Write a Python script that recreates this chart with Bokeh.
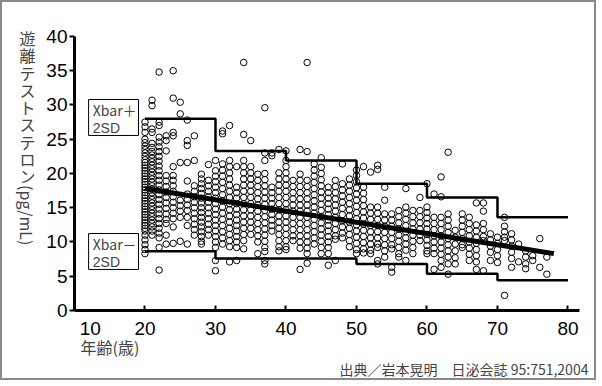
import math
from bokeh.plotting import figure
from bokeh.models import Range1d, FixedTicker, Label, BoxAnnotation
from bokeh.embed import file_html
from bokeh.resources import INLINE

# ---- data ----
x_ticks = [10, 20, 30, 40, 50, 60, 70, 80]
y_ticks = [0, 5, 10, 15, 20, 25, 30, 35, 40]

step_ages = [20, 30, 40, 50, 60, 70, 80]
upper_2sd = [28.0, 23.3, 21.9, 18.5, 16.5, 13.6, 13.6]
lower_2sd = [8.66, 7.6, 7.6, 6.8, 5.35, 4.4, 4.4]

reg_age = [20, 78]
reg_ft = [17.8, 8.3]

v20 = [27.5, 26.8, 26.0, 25.0, 24.5, 24.0, 23.5, 23.0, 22.5, 22.0, 21.6, 21.2, 20.8, 20.4, 20.0, 19.6, 19.2, 18.8, 18.4, 18.0, 17.6, 17.2, 16.8, 16.4, 16.0, 15.6, 15.2, 14.8, 14.4, 14.0, 13.6, 13.2, 12.8, 12.4, 12.0, 11.6, 11.0, 10.3, 9.6, 8.9, 8.3]
v21 = [30.7, 29.9, 26.5, 26.0, 24.4, 23.8, 23.2, 22.7, 22.2, 21.7, 21.2, 20.7, 20.2, 19.7, 19.2, 18.7, 18.2, 17.7, 17.2, 16.7, 16.2, 15.7, 15.2, 14.7, 14.2, 13.7, 13.2, 12.7, 12.2, 11.6, 11.0]
v22 = [34.8, 27.5, 27.0, 25.3, 24.6, 23.9, 23.2, 22.5, 21.8, 21.1, 20.4, 19.7, 19.0, 18.3, 17.6, 16.9, 16.2, 15.5, 14.8, 14.1, 13.4, 12.7, 12.0, 11.3, 10.6, 9.2, 5.9]
v23 = [25.5, 24.8, 23.3, 19.7, 18.9, 18.1, 17.3, 16.5, 15.7, 14.9, 14.1, 13.3, 12.7, 11.0, 9.7]
v24 = [35.0, 31.0, 26.0, 25.5, 21.0, 19.7, 19.0, 18.2, 17.4, 16.6, 15.8, 15.0, 14.2, 13.4, 12.2, 9.8]
v25 = [30.4, 28.7, 21.6, 16.1, 15.3, 14.5, 13.6, 10.1]
v26 = [27.8, 24.8, 24.1, 21.6, 18.9, 17.0, 16.2, 15.4, 14.6, 13.6, 12.4, 9.7]
v27 = [25.5, 21.9, 18.2, 17.4, 16.6, 15.8, 15.0, 14.2, 13.4, 12.6, 11.8, 11.0]
v28 = [19.9, 19.2, 18.5, 17.8, 17.1, 16.4, 15.7, 15.0, 14.3, 13.6, 12.9, 12.2, 11.5, 10.8, 10.1, 9.7]
v29 = [21.3, 19.0, 18.2, 17.4, 16.6, 15.8, 15.0, 14.2, 13.4, 12.6, 11.8, 11.0]
v30 = [21.9, 20.4, 19.6, 18.8, 18.0, 17.2, 16.4, 15.6, 14.8, 14.0, 13.2, 12.4, 11.6, 10.8, 10.0, 9.2, 7.3, 5.8]
v31 = [26.2, 25.8, 21.4, 20.5, 19.6, 18.7, 17.8, 16.9, 16.0, 15.1, 14.2, 13.3, 12.4, 11.5, 10.6, 9.7]
v32 = [27.0, 21.9, 21.0, 20.1, 19.2, 18.3, 17.4, 16.5, 15.6, 14.7, 13.8, 12.9, 12.0, 11.1, 10.2, 9.3, 7.1]
v33 = [21.0, 18.0, 17.2, 16.4, 15.6, 14.8, 14.0, 13.2, 12.4, 11.6, 10.8, 10.0, 9.2, 7.3]
v34 = [36.2, 25.7, 21.9, 21.0, 20.1, 19.2, 18.3, 17.4, 16.5, 15.6, 14.7, 13.8, 12.9, 12.0, 11.1, 10.2, 9.0]
v35 = [24.8, 21.0, 20.1, 19.2, 18.3, 17.4, 16.5, 15.6, 14.7, 13.8, 12.9, 12.0, 11.1]
v36 = [19.9, 19.0, 18.1, 17.2, 16.3, 15.4, 14.5, 13.6, 12.7, 11.8, 10.9, 10.0, 8.3]
v37 = [29.6, 23.0, 21.9, 20.0, 19.1, 18.2, 17.3, 16.4, 15.5, 14.6, 13.7, 12.8, 11.9, 11.0, 10.1, 9.2, 8.6, 7.3, 6.8]
v38 = [23.0, 22.6, 18.0, 17.2, 16.4, 15.6, 14.8, 14.0, 13.2, 12.4, 11.6]
v39 = [23.5, 20.1, 19.2, 18.3, 17.4, 16.5, 15.6, 14.7, 13.8, 12.9, 12.0, 11.1, 10.2, 9.3, 8.7]
v40 = [23.3, 21.9, 21.0, 20.1, 19.2, 18.3, 17.4, 16.5, 15.6, 14.7, 13.8, 12.9, 12.0, 11.1, 10.2, 9.3, 8.9]
v41 = [19.0, 18.1, 17.2, 16.3, 15.4, 14.5, 13.6, 12.7, 11.8, 10.9, 10.2]
v42 = [23.5, 19.9, 19.0, 18.1, 17.2, 16.3, 15.4, 14.5, 13.6, 12.7, 11.8, 10.9, 10.0, 9.1, 6.0]
v43 = [36.2, 23.2, 19.0, 18.1, 17.2, 16.3, 15.4, 14.5, 13.6, 12.7, 11.8, 10.9, 10.0, 9.1, 8.3, 6.9]
v44 = [21.4, 20.5, 19.6, 18.7, 17.8, 16.9, 16.0, 15.1, 14.2, 13.3, 12.4, 11.5, 10.6, 9.7]
v45 = [22.3, 20.9, 20.0, 19.1, 18.2, 17.3, 16.4, 15.5, 14.6, 13.7, 12.8, 11.9, 11.0, 10.1, 9.2, 8.3]
v46 = [18.0, 17.2, 16.4, 15.6, 14.8, 14.0, 13.2, 12.4, 11.6, 10.8, 10.0, 9.2, 8.3, 6.6]
v47 = [19.0, 18.1, 17.2, 16.3, 15.4, 14.5, 13.6, 12.7, 11.8, 10.9, 10.4, 7.3]
v48 = [21.4, 18.5, 17.6, 16.7, 15.8, 14.9, 14.0, 13.1, 12.2, 11.3, 10.6]
v49 = [19.2, 18.3, 17.4, 16.5, 15.6, 14.7, 13.8, 12.9, 12.0, 11.1, 10.2, 9.3]
v50 = [20.5, 19.7, 18.8, 17.9, 17.0, 16.1, 15.2, 14.3, 13.4, 12.5, 11.6, 10.7, 9.8, 8.9, 8.3]
v51 = [21.0, 18.0, 17.1, 16.2, 15.3, 14.4, 13.5, 12.6, 11.7, 10.8, 9.9, 9.0, 8.4]
v52 = [20.2, 15.1, 14.2, 13.3, 12.4, 11.5, 10.6, 9.7, 8.8, 8.3]
v53 = [21.2, 20.6, 15.1, 14.2, 13.3, 12.4, 11.5, 10.6, 9.7, 9.2, 7.3, 6.8]
v54 = [18.0, 16.1, 14.1, 13.2, 12.3, 11.4, 10.5, 9.6, 8.7, 7.8]
v55 = [14.1, 13.2, 12.3, 11.4, 10.5, 9.6, 9.0, 6.3, 5.6]
v56 = [14.6, 13.7, 12.8, 11.9, 11.0, 10.1, 9.2, 8.3, 7.8]
v57 = [17.8, 15.1, 14.2, 13.3, 12.4, 11.5, 10.6, 9.7, 8.8, 7.3]
v58 = [14.6, 13.7, 12.8, 11.9, 11.0, 10.1, 9.2, 8.3]
v59 = [16.5, 14.6, 13.7, 12.8, 11.9, 11.0, 10.2]
v60 = [18.5, 15.1, 14.3, 13.5, 12.7, 11.9, 11.1, 10.3, 9.5, 8.7, 8.3]
v61 = [17.0, 13.6, 12.7, 11.8, 10.9, 10.0, 9.1, 8.3, 6.0]
v62 = [19.5, 16.6, 13.6, 12.7, 11.8, 10.9, 10.0, 9.1, 8.2, 7.3, 6.3]
v63 = [23.1, 14.1, 13.2, 12.3, 11.4, 10.5, 9.6, 8.7, 7.8, 6.8, 5.3]
v64 = [11.7, 10.7, 9.7, 8.7, 7.7, 6.8]
v65 = [14.1, 13.2, 12.3, 11.4, 10.5, 9.6, 9.2]
v66 = [13.6, 12.7, 11.8, 10.9, 10.0, 9.1, 8.2, 7.3]
v67 = [15.7, 12.5, 11.6, 10.7, 9.8, 8.9, 8.0, 7.1, 6.0]
v68 = [15.7, 14.5, 12.7, 11.8, 10.8, 10.2, 5.8]
v69 = [11.2, 10.3, 9.4, 8.5, 7.3]
v70 = [10.7, 9.8, 8.9, 8.0, 7.0]
v71 = [13.6, 12.3, 11.5, 10.7, 10.2, 2.2]
v72 = [11.2, 10.3, 9.4, 8.5, 7.6, 6.3]
v73 = [9.7, 7.1]
v74 = [8.7, 7.8, 6.8, 6.1]
v75 = [8.0, 7.3]
v76 = [10.5, 6.3]
v77 = [7.8, 5.3]

columns = [(20, v20), (21, v21), (22, v22), (23, v23), (24, v24), (25, v25), (26, v26),
           (27, v27), (28, v28), (29, v29), (30, v30), (31, v31), (32, v32), (33, v33),
           (34, v34), (35, v35), (36, v36), (37, v37), (38, v38), (39, v39), (40, v40),
           (41, v41), (42, v42), (43, v43), (44, v44), (45, v45), (46, v46), (47, v47),
           (48, v48), (49, v49), (50, v50), (51, v51), (52, v52), (53, v53), (54, v54),
           (55, v55), (56, v56), (57, v57), (58, v58), (59, v59), (60, v60), (61, v61),
           (62, v62), (63, v63), (64, v64), (65, v65), (66, v66), (67, v67), (68, v68),
           (69, v69), (70, v70), (71, v71), (72, v72), (73, v73), (74, v74), (75, v75),
           (76, v76), (77, v77)]

pt_age, pt_ft = [], []
for a, vals in columns:
    pt_age += [a] * len(vals)
    pt_ft += vals

LATIN = "Liberation Sans"
CJK = "Noto Sans CJK JP"

# the frame fills the canvas; axes are pinned at age 10 / value 0 with bounds
p = figure(width=596, height=380, output_backend="svg", toolbar_location=None,
           title=None, x_range=Range1d(-0.213, 84.33), y_range=Range1d(-10.51, 44.96),
           min_border=0)
p.styles = {"border": "2px solid #8a8a8a"}
p.outline_line_color = None
p.grid.visible = False
p.background_fill_color = "white"
p.border_fill_color = "white"

for ax in (p.xaxis[0], p.yaxis[0]):
    ax.axis_line_width = 3
    ax.axis_line_color = "black"
    ax.major_tick_line_width = 2
    ax.minor_tick_line_color = None
    ax.major_label_text_font = LATIN
    ax.major_label_text_font_size = "19px"
    ax.major_label_text_color = "black"

p.xaxis.fixed_location = 0
p.xaxis.bounds = (10, 81.7)
p.xaxis.ticker = FixedTicker(ticks=x_ticks)
p.xaxis.major_label_overrides = {10: "\u00a0" * 6 + "10"}
p.xaxis.major_tick_in = 5
p.xaxis.major_tick_out = 0
p.xaxis.major_label_standoff = 7

p.yaxis.fixed_location = 10
p.yaxis.bounds = (0, 40)
p.yaxis.ticker = FixedTicker(ticks=y_ticks)
p.yaxis.major_tick_in = 0
p.yaxis.major_tick_out = 5
p.yaxis.major_label_standoff = 2

p.scatter(pt_age, pt_ft, size=6.5, fill_color=None, line_color="black", line_width=1)
p.step(step_ages, upper_2sd, mode="after", line_width=2.5, line_color="black")
p.step(step_ages, lower_2sd, mode="after", line_width=2.5, line_color="black")
p.line(reg_age, reg_ft, line_width=5, line_color="black")

# boxed labels
for top, bottom, t1 in [(30.8, 25.55, "Xbar＋"), (11.24, 5.99, "Xbar－")]:
    p.add_layout(BoxAnnotation(left=12.0, right=19.08, top=top, bottom=bottom,
                               fill_color="white", fill_alpha=1, line_color="black",
                               line_alpha=1, line_width=1, level="underlay"))
    p.add_layout(Label(x=12.6, y=top - 1.6, text=t1, text_font=CJK, text_font_size="14px",
                       text_baseline="middle", text_align="left"))
    p.add_layout(Label(x=12.6, y=top - 4.1, text="2SD", text_font=LATIN, text_font_size="14px",
                       text_baseline="middle", text_align="left"))

# y-axis title, written vertically: upright kana/kanji, then rotated unit
px_per_unit = 6.85
for i, ch in enumerate("遊離テストステロン"):
    p.add_layout(Label(x=3.33, y=(310 - (37.5 + 17.3 * i)) / px_per_unit, text=ch,
                       text_font=CJK, text_font_size="16px", text_align="center",
                       text_baseline="middle"))
p.add_layout(Label(x=3.33, y=13.9, text="(pg/mL)", text_font=CJK, text_font_size="16px",
                   text_align="center", text_baseline="middle", angle=-math.pi / 2))

# x-axis title
p.add_layout(Label(x=10.85, y=-5.4, text="年齢(歳)", text_font=CJK, text_font_size="16px",
                   text_align="left", text_baseline="middle"))

# source
p.add_layout(Label(x=82.9, y=-8.47, text="出典／岩本晃明　日泌会誌 95:751,2004", text_font=CJK,
                   text_font_size="14px", text_align="right", text_baseline="middle"))

open("out.html", "w").write(file_html(p, INLINE))
